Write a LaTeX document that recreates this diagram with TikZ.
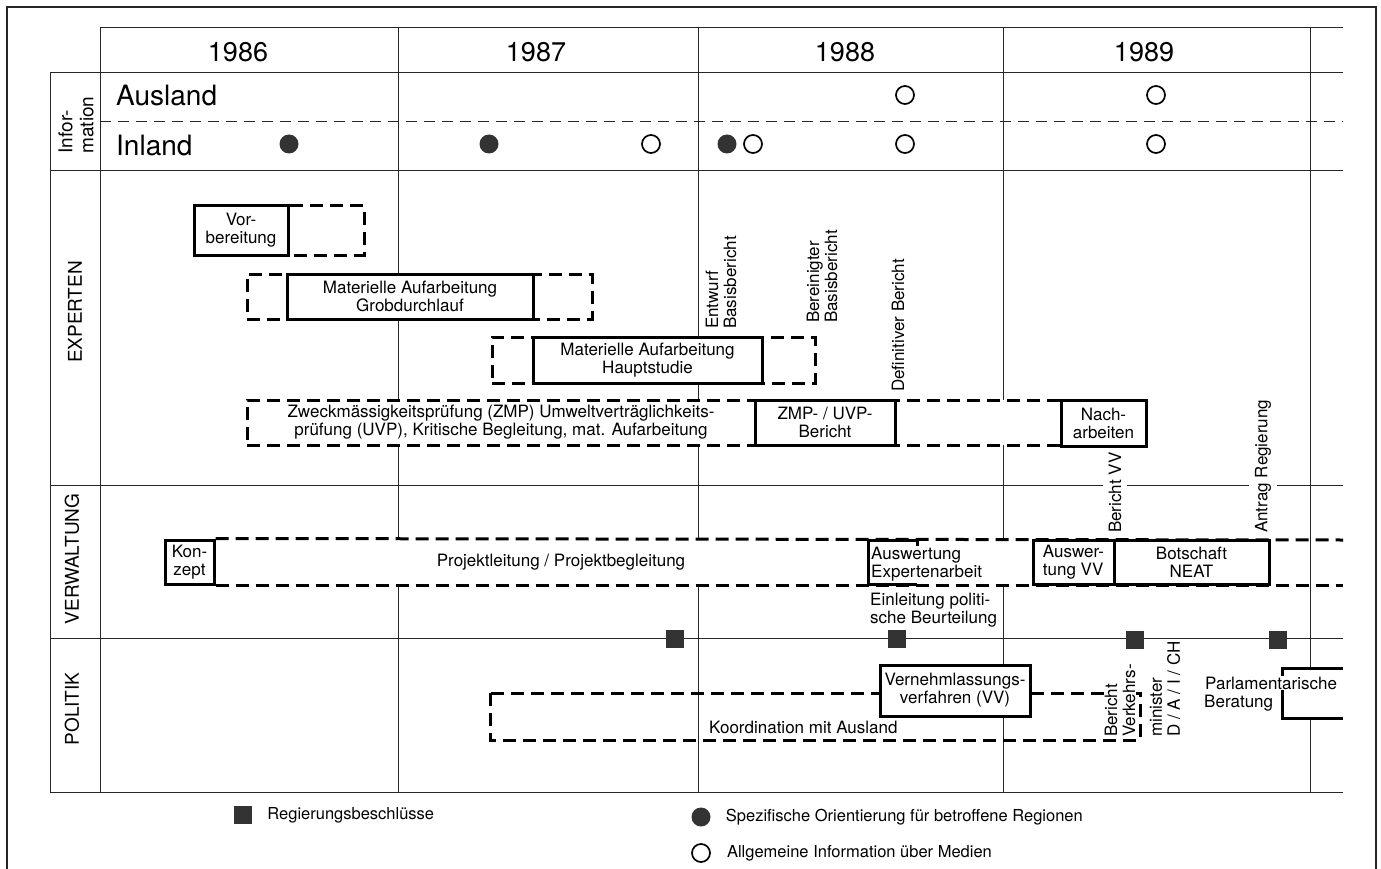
\documentclass[tikz,border=0pt]{standalone}
\usepackage{fontspec}
\setmainfont{TeX Gyre Heros}
\usetikzlibrary{positioning}
\newcommand{\boxfont}{\fontsize{17}{18}\selectfont}
\newcommand{\yearfont}{\fontsize{27}{30}\selectfont}
\newcommand{\infofont}{\fontsize{28}{30}\selectfont}
\newcommand{\rowfont}{\fontsize{19}{21}\selectfont}
\newcommand{\legfont}{\fontsize{16.5}{18}\selectfont}

\begin{document}
\begin{tikzpicture}[x=1pt, y=-1pt]
  \tikzset{gridline/.style={line width=0.9pt, black!85},
    solidbox/.style={draw, line width=3pt, fill=white, inner sep=0pt,
      align=center, font=\boxfont},
    dashbox/.style={draw, line width=3pt, dash pattern=on 13pt off 7pt,
      fill=white, inner sep=0pt},
    dashline/.style={line width=3pt, dash pattern=on 13pt off 7pt},
    boxtext/.style={font=\boxfont, align=left, inner sep=0pt},
    vlbl/.style={rotate=90, anchor=west, font=\boxfont, align=left,
      inner xsep=1pt, inner ysep=0pt},
    rowlbl/.style={rotate=90, font=\rowfont, align=left, inner sep=0pt},
    yearlbl/.style={anchor=base, font=\yearfont, inner sep=0pt},
    fullpt/.style={circle, fill=black!80, minimum size=19pt, inner sep=0pt},
    openpt/.style={circle, draw, line width=1.7pt, minimum size=18pt, inner sep=0pt},
    decision/.style={fill=black!80, minimum size=18pt, inner sep=0pt}}
  \clip (0,0) rectangle (1381,869);
  \draw[line width=1.2pt, black!85] (7,880) -- (7,7) -- (1376,7) -- (1376,880);

  % raster
  \draw[gridline] (100,27) -- (1343,27);
  \foreach \y in {72,170,485,638,792}
    \draw[gridline] (50,\y) -- (1343,\y);
  \draw[gridline, dash pattern=on 11pt off 7pt] (100,121) -- (1343,121);
  \draw[gridline] (50,72) -- (50,792);
  \foreach \x in {100,398,698,1003,1310}
    \draw[gridline] (\x,27) -- (\x,792);

  \foreach \x/\yr in {238/1986,536/1987,845/1988,1144/1989}
    \node[yearlbl] (y\yr) at (\x,62) {\yr};

  \node[rowlbl] (info) at (76,125) {Infor-\\mation};
  \node[rowlbl] (experten) at (75,312) {EXPERTEN};
  \node[rowlbl] (verwaltung) at (72,559) {VERWALTUNG};
  \node[rowlbl] (politik) at (72,709) {POLITIK};

  % Information
  \node[anchor=base west, font=\infofont, inner sep=0pt] (ausland) at (116,106) {Ausland};
  \node[anchor=base west, font=\infofont, inner sep=0pt] (inland) at (116,156) {Inland};
  \foreach \x [count=\i] in {905,1156}
    \node[openpt] (ausopen\i) at (\x,95) {};
  \foreach \x [count=\i] in {289,489,727}
    \node[fullpt] (infull\i) at (\x,144) {};
  \foreach \x [count=\i] in {651,753,905,1156}
    \node[openpt] (inopen\i) at (\x,144) {};

  % Experten
  \node[dashbox, minimum width=170pt, minimum height=49pt] (vorbext) at (279,230.5) {};
  \node[solidbox, minimum width=94pt, minimum height=49pt] (vorb) at (241,230.5) {Vor-\\bereitung};
  \node[dashbox, minimum width=345pt, minimum height=45pt] (grobext) at (419.5,296.5) {};
  \node[solidbox, minimum width=246pt, minimum height=45pt] (grob) at (410,296.5) {Materielle Aufarbeitung\\Grobdurchlauf};
  \node[dashbox, minimum width=323pt, minimum height=46pt] (hauptext) at (653.5,360) {};
  \node[solidbox, minimum width=229pt, minimum height=46pt] (haupt) at (647.5,360) {Materielle Aufarbeitung\\Hauptstudie};
  \node[dashbox, minimum width=814pt, minimum height=45pt] (zweck) at (654,422.5) {};
  \node[boxtext, align=center] (zwecktext) at (501,422) {Zweckmässigkeitsprüfung (ZMP) Umweltverträglichkeits-\\prüfung (UVP), Kritische Begleitung, mat. Aufarbeitung};
  \node[solidbox, minimum width=140pt, minimum height=45pt] (zmp) at (825,422.5) {ZMP- / UVP-\\Bericht};
  \node[solidbox, minimum width=85pt, minimum height=46pt] (nach) at (1103.5,423) {Nach-\\arbeiten};

  \node[vlbl] (entwurf) at (721,330) {Entwurf\\Basisbericht};
  \node[vlbl] (bereinigt) at (822,324) {Bereinigter\\Basisbericht};
  \node[vlbl] (definitiv) at (898,393) {Definitiver Bericht};

  % Verwaltung
  \coordinate (bandend) at (1343,540);
  \fill[white] (214,540) rectangle (1269,584);
  \node[solidbox, minimum width=49pt, minimum height=44pt] (konzept) at (189.5,562) {Kon-\\zept};
  \draw[dashline] (konzept.north east) -- (bandend);
  \draw[dashline] (konzept.south east) -- (bandend |- konzept.south);
  \node[boxtext] (projekt) at (561,562) {Projektleitung / Projektbegleitung};
  \draw[line width=3pt] (917,546) -- (917,540) -- (868,540) -- (868,584) -- (917,584);
  \node[boxtext, anchor=west] (auswexp) at (871,564) {Auswertung\\Expertenarbeit};
  \node[boxtext, anchor=north west] (einleitung) at (870,593) {Einleitung politi-\\sche Beurteilung};
  \node[solidbox, align=left, minimum width=81pt, minimum height=44pt] (auswvv) at (1073.5,562) {Auswer-\\tung VV};
  \node[solidbox, minimum width=155pt, minimum height=44pt] (botschaft) at (1191.5,562) {Botschaft\\NEAT};
  \node[vlbl, fill=white, inner ysep=6pt] (berichtvv) at (1115,534) {Bericht VV};
  \node[vlbl, fill=white, inner ysep=6pt] (antrag) at (1263,534) {Antrag Regierung};

  \foreach \x/\y [count=\i] in {675/639,897/639,1135/640,1278/640}
    \node[decision] (beschluss\i) at (\x,\y) {};

  % Politik
  \draw[dashline] (490,693) rectangle (1140,740);
  \node[boxtext, anchor=west] (koord) at (709,727) {Koordination mit Ausland};
  \node[solidbox, minimum width=150pt, minimum height=51pt] (vernehm) at (955,690.5) {Vernehmlassungs-\\verfahren (VV)};
  \node[vlbl, fill=white, inner ysep=1pt] (verkehr) at (1120,738) {Bericht\\Verkehrs-};
  \node[vlbl, fill=white, inner ysep=1pt] (minister) at (1165,738) {minister\\D / A / I / CH};
  \fill[white] (1282,668) rectangle (1345,718);
  \draw[line width=3pt] (1343,668) -- (1282,668) -- (1282,718) -- (1343,718);
  \node[boxtext, anchor=base west, fill=white, inner sep=1pt] (parlament) at (1204,689) {Parlamentarische};
  \node[boxtext, anchor=base west] (beratung) at (1204,707) {Beratung};

  % Legende
  \node[decision] (legsq) at (243,815) {};
  \node[font=\legfont, anchor=west, right=15pt of legsq, inner sep=0pt] (legsqtext) {Regierungsbeschlüsse};
  \node[fullpt] (legfull) at (701,817) {};
  \node[font=\legfont, anchor=west, right=15pt of legfull, inner sep=0pt] (legfulltext) {Spezifische Orientierung für betroffene Regionen};
  \node[openpt] (legopen) at (701,853) {};
  \node[font=\legfont, anchor=west, right=16pt of legopen, inner sep=0pt] (legopentext) {Allgemeine Information über Medien};
\end{tikzpicture}
\end{document}
